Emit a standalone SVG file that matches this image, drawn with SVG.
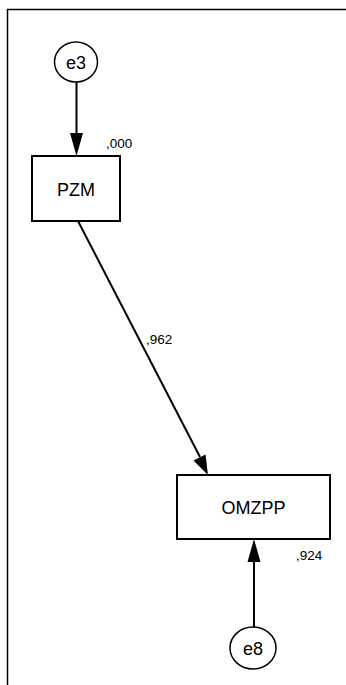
<svg xmlns="http://www.w3.org/2000/svg" width="346" height="685" viewBox="0 0 346 685">
<style>
.n{fill:#fff;stroke:#000;stroke-width:2}
.c{fill:#fff;stroke:#000;stroke-width:1.5}
.t{font-family:"Liberation Sans",Arial,sans-serif;font-size:18px;text-anchor:middle;fill:#000}
.s{font-family:"Liberation Sans",Arial,sans-serif;font-size:13.5px;fill:#000}
.e{stroke:#000;stroke-width:2;fill:none}
.h{fill:#000}
</style>
<rect x="0" y="0" width="346" height="685" fill="#fff"/>
<path d="M7.5,685 V9.5 H346" fill="none" stroke="#000" stroke-width="1.5"/>
<g id="connectors">
<line class="e" x1="76.5" y1="82" x2="76.5" y2="133"/>
<path class="h" d="M70,133 L83,133 L76.5,156 Z"/>
<line class="e" x1="78" y1="221" x2="200" y2="457"/>
<path class="h" d="M193.5,460.5 L205.5,454.5 L208,475 Z"/>
<line class="e" x1="254" y1="627" x2="254" y2="561"/>
<path class="h" d="M247.5,562 L260.5,562 L254,539 Z"/>
</g>
<g id="e3">
<ellipse class="c" cx="76" cy="62" rx="21.5" ry="20"/>
<text class="t" x="76" y="68.5">e3</text>
</g>
<g id="PZM">
<rect class="n" x="32" y="156" width="88" height="65"/>
<text class="t" x="76" y="195.5">PZM</text>
<text class="s" x="106" y="147.5">,000</text>
</g>
<g id="OMZPP">
<rect class="n" x="177" y="475" width="153" height="64"/>
<text class="t" x="253.5" y="514">OMZPP</text>
<text class="s" x="296" y="559.5">,924</text>
</g>
<g id="e8">
<ellipse class="c" cx="253" cy="648" rx="23" ry="21"/>
<text class="t" x="253" y="654.5">e8</text>
</g>
<text class="s" x="146" y="343.5">,962</text>
</svg>
